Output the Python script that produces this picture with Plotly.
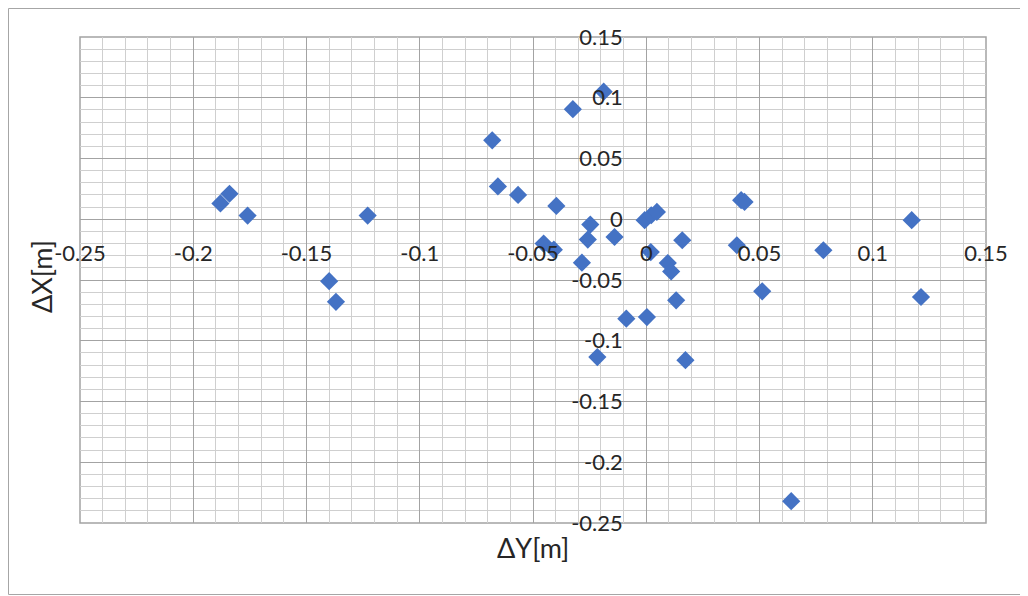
import plotly.graph_objects as go

# ΔY values (horizontal axis) and ΔX values (vertical axis), in metres
delta_y = [-0.188, -0.184, -0.176, -0.123, -0.140, -0.137, -0.068, -0.0655, -0.0566,
           -0.0397, -0.0324, -0.0188, -0.0247, -0.0258, -0.014, -0.0453, -0.0408,
           -0.0284, -0.0007, 0.0022, 0.0047, 0.002, 0.0095, 0.011, 0.0159, 0.0132,
           -0.0088, 0.0003, -0.0216, 0.0173, 0.064, 0.0512, 0.0419, 0.0434, 0.040,
           0.0782, 0.1172, 0.1213]
delta_x = [0.013, 0.021, 0.003, 0.003, -0.051, -0.068, 0.065, 0.027, 0.020,
           0.011, 0.0906, 0.105, -0.0044, -0.0167, -0.0146, -0.020, -0.025,
           -0.0357, -0.0008, 0.0033, 0.006, -0.027, -0.036, -0.043, -0.0173, -0.0667,
           -0.0818, -0.0805, -0.1134, -0.116, -0.232, -0.0593, 0.0157, 0.0143, -0.0214,
           -0.0255, -0.0008, -0.064]

tick_vals = [-0.25, -0.2, -0.15, -0.1, -0.05, 0, 0.05, 0.1, 0.15]
tick_text = ["-0.25", "-0.2", "-0.15", "-0.1", "-0.05", "0", "0.05", "0.1", "0.15"]

x_title = "ΔY[m]"
y_title = "ΔX[m]"

FONT = "Lato"
TXT = "#262626"
MAJOR = "#a3a3a3"
MINOR = "#cfcfcf"

# page places the figure at (8, 8); compensate so plot area lands at 80..986 x 37..523
W, H = 1020, 588
L, R, T, B = 72, 42, 29, 73
plot_w = W - L - R
plot_h = H - T - B
OFF = 8

fig = go.Figure()
fig.add_trace(go.Scatter(
    x=delta_y, y=delta_x, mode="markers",
    marker=dict(symbol="diamond", size=14, color="#4472C4", line=dict(width=0)),
    showlegend=False, hoverinfo="x+y",
))

x0_frac = (0 - (-0.25)) / 0.40
y0_frac = (0 - (-0.25)) / 0.40

common = dict(
    tickvals=tick_vals, ticktext=tick_text,
    showgrid=True, gridcolor=MAJOR, gridwidth=1,
    zeroline=True, zerolinecolor=MAJOR, zerolinewidth=1,
    showline=False,
    ticks="outside", tickcolor="rgba(0,0,0,0)",
    tickfont=dict(family=FONT, size=22, color=TXT),
    minor=dict(dtick=0.01, showgrid=True, gridcolor=MINOR, gridwidth=1, ticks=""),
    range=[-0.25, 0.15], fixedrange=True,
)

def px_to_py(page_y):
    return ((H - B) - (page_y - OFF)) / plot_h

def px_to_px(page_x):
    return ((page_x - OFF) - L) / plot_w

bx0, bx1 = px_to_px(8.5), px_to_px(1100)
by0, by1 = px_to_py(594.5), px_to_py(8.5)
border = dict(type="line", xref="paper", yref="paper", layer="below",
              line=dict(color="#a6a6a6", width=1))

fig.update_layout(
    width=W, height=H,
    margin=dict(l=L, r=R, t=T, b=B, pad=0),
    paper_bgcolor="white", plot_bgcolor="white",
    xaxis=dict(**common, anchor="free", position=y0_frac, ticklen=14),
    yaxis=dict(**common, anchor="free", position=x0_frac, ticklen=19),
    annotations=[
        dict(text=x_title, xref="paper", yref="paper", x=0.5, y=px_to_py(547),
             xanchor="center", yanchor="middle", showarrow=False,
             font=dict(family=FONT, size=27, color=TXT)),
        dict(text=y_title, xref="paper", yref="paper", x=px_to_px(41), y=px_to_py(277),
             xanchor="center", yanchor="middle", showarrow=False, textangle=-90,
             font=dict(family=FONT, size=27, color=TXT)),
    ],
    shapes=[
        dict(border, x0=bx0, x1=bx0, y0=by0, y1=by1),
        dict(border, x0=bx0, x1=bx1, y0=by1, y1=by1),
        dict(border, x0=bx0, x1=bx1, y0=by0, y1=by0),
        dict(type="rect", xref="paper", yref="paper", layer="below",
             x0=0, x1=1, y0=0, y1=1,
             line=dict(color=MAJOR, width=1.5), fillcolor="rgba(0,0,0,0)"),
    ],
)

fig.write_html("out.html")
